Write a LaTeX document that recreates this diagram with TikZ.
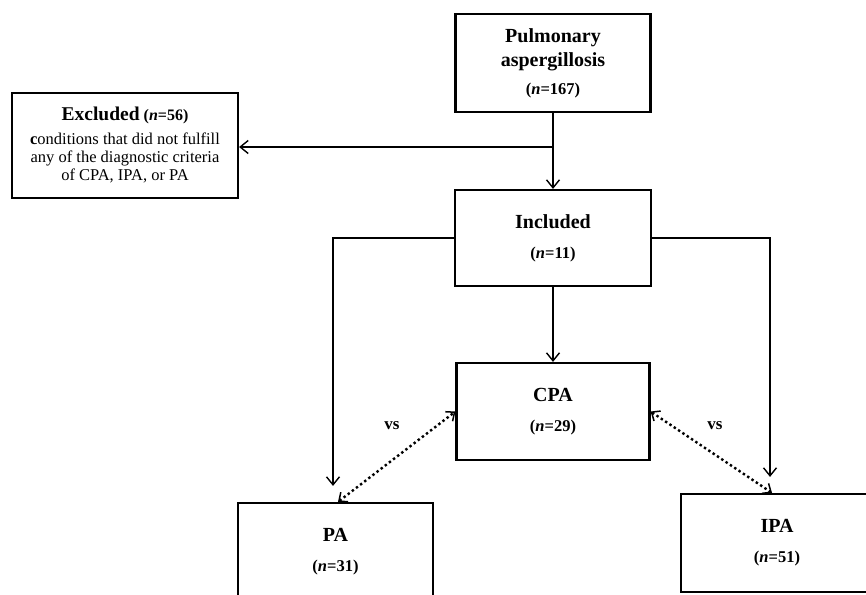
\documentclass[tikz,border=0pt]{standalone}
\usepackage{fontspec}
\setmainfont{Liberation Serif}
\usetikzlibrary{arrows.meta,calc}
\newcommand{\hd}{\fontsize{20}{24}\selectfont\bfseries}
\newcommand{\nn}[1]{{\fontsize{16.5}{19}\selectfont\bfseries(\textit{n}=#1)}}
\tikzset{
  box/.style={draw, line width=2.2pt, align=center, inner sep=0pt, font=\hd},
  conn/.style={line width=1.4pt, -{Straight Barb[length=8pt,width=13pt,line width=1.4pt]}},
  vsline/.style={line width=2.4pt, dash pattern=on 2.4pt off 2.8pt,
     {Straight Barb[length=7pt,width=12pt,line width=1.5pt]}-{Straight Barb[length=7pt,width=12pt,line width=1.5pt]}},
  vslab/.style={font=\fontsize{17}{19}\selectfont\bfseries}
}
\begin{document}
\begin{tikzpicture}[x=1pt,y=-1pt]
\useasboundingbox (0,0) rectangle (866,594);
\clip (0,0) rectangle (866,594);
\node[box, minimum width=195pt, minimum height=98pt] (pul) at (553,63)
  {Pulmonary\\aspergillosis\\[4pt]\nn{167}};
\node[box, minimum width=196pt, minimum height=96pt] (inc) at (553,238)
  {Included\\[6pt]\nn{11}};
\node[box, minimum width=226pt, minimum height=105pt, font=\fontsize{16.5}{18}\selectfont] (exc) at (125,145.5)
  {{\fontsize{19.5}{22}\selectfont\bfseries Excluded} {\fontsize{16}{18}\selectfont\bfseries(\textit{n}=56)}\\[6pt]\textbf{c}onditions that did not fulfill\\any of the diagnostic criteria\\of CPA, IPA, or PA};
\node[box, minimum width=193pt, minimum height=97pt] (cpa) at (553,411.5)
  {CPA\\[6pt]\nn{29}};
\node[box, minimum width=195pt, minimum height=98pt] (pa) at (335.5,552)
  {PA\\[6pt]\nn{31}};
\node[box, minimum width=192pt, minimum height=98pt] (ipa) at (777,543)
  {IPA\\[6pt]\nn{51}};
\coordinate (j) at (553,147);
\draw[conn] (pul.south) -- (inc.north);
\draw[conn] (j) -- (j -| exc.east);
\draw[conn, line width=2.2pt] (inc.south) -- (cpa.north);
\draw[conn] (inc.west) -| ([xshift=-2.5pt,yshift=16pt]pa.north);
\draw[conn] (inc.east) -| ([xshift=-7pt,yshift=16pt]ipa.north);
\draw[vsline] ([xshift=2.5pt]pa.north) -- (cpa.west);
\draw[vsline] (cpa.east) -- ([xshift=-5pt]ipa.north);
\node[vslab] (vs1) at (392,426) {vs};
\node[vslab] (vs2) at (715,426) {vs};
\end{tikzpicture}
\end{document}
